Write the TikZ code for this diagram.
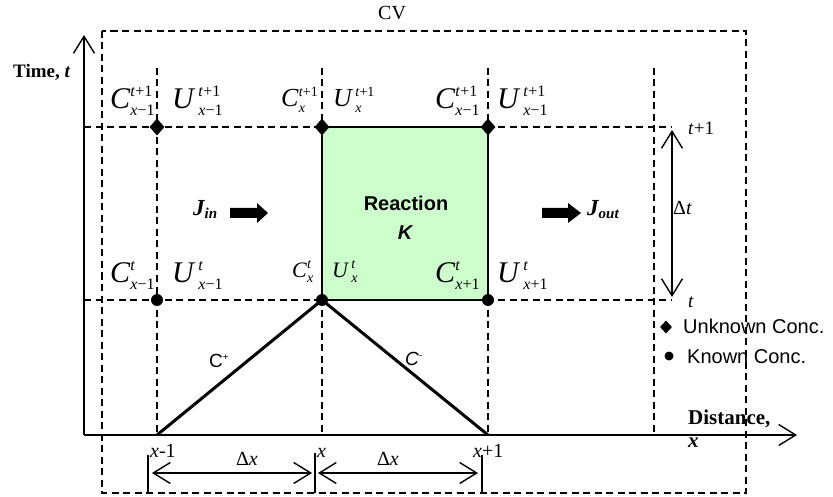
\documentclass[tikz,border=0pt]{standalone}
\usepackage{fontspec}
\setmainfont{Liberation Serif}
\newfontfamily\arial{Liberation Sans}
\usetikzlibrary{arrows.meta,shapes.geometric}
\newsavebox\supbox
\newsavebox\subbox
% #1 main size, #2 script size, #3 letter, #4 sup, #5 sub, #6 gap
\newcommand\lab[6]{{\fontsize{#1}{#1}\selectfont\textit{#3}}\kern#6pt%
 \sbox\supbox{\fontsize{#2}{#2}\selectfont #4}%
 \sbox\subbox{\fontsize{#2}{#2}\selectfont #5}%
 \ifdim\wd\supbox>\wd\subbox
  \rlap{\raisebox{-0.22\dimexpr#1pt\relax}{\usebox\subbox}}\raisebox{0.41\dimexpr#1pt\relax}{\usebox\supbox}%
 \else
  \rlap{\raisebox{0.41\dimexpr#1pt\relax}{\usebox\supbox}}\raisebox{-0.22\dimexpr#1pt\relax}{\usebox\subbox}%
 \fi}
\newcommand\tpo{\textit{t}+1}
\newcommand\xmo{\textit{x}−1}
\newcommand\xpo{\textit{x}+1}
\tikzset{
  mybarb/.tip={Straight Barb[length=17pt,width=21pt,line width=1.4pt]},
  dsh/.style={dash pattern=on 7pt off 4.5pt, line width=1.4pt},
  axisline/.style={line width=1.3pt},
  txt/.style={inner sep=0pt, anchor=base west},
  diam/.style={diamond, fill=black, inner sep=0pt, minimum width=15pt, minimum height=17pt},
  dotn/.style={circle, fill=black, inner sep=0pt, minimum size=12pt},
  cline/.style={line width=3pt},
  blockarr/.style={fill=black},
}
\begin{document}
\begin{tikzpicture}[x=1pt,y=-1pt]
\useasboundingbox (0,0) rectangle (833,497);
% CV box
\draw[dsh] (102,31) rectangle (746,493);
\node[txt, font=\fontsize{20}{20}\selectfont] (cv) at (378,20) {CV};
% vertical dashed grid lines
\foreach \xx in {157,322,488,654} \draw[dsh] (\xx,68) -- (\xx,435);
% horizontal dashed lines
\draw[dsh] (84,127) -- (672,127);
\draw[dsh] (84,300) -- (672,300);
% green reaction box
\filldraw[fill={rgb,255:red,204;green,255;blue,204}, draw=black, line width=2pt] (322,127) rectangle (488,300);
\node[inner sep=0pt, anchor=base, font=\arial\bfseries\fontsize{20}{20}\selectfont] (reac) at (406,211) {Reaction};
\node[inner sep=0pt, anchor=base, font=\arial\bfseries\itshape\fontsize{20}{20}\selectfont] (kk) at (405,240) {K};
% axes
\coordinate (o) at (84,435);
\coordinate (ty) at (84,35);
\coordinate (tx) at (797,435);
\draw[axisline, -{mybarb}] (o) -- (ty);
\draw[axisline, -{mybarb}] (o) -- (tx);
\node[txt, font=\bfseries\fontsize{19}{19}\selectfont] (tlab) at (13,78) {Time, \textit{t}};
\node[txt, font=\bfseries\fontsize{21}{21}\selectfont] (dlab) at (688,424) {Distance,};
\node[txt, font=\bfseries\itshape\fontsize{21}{21}\selectfont] (dx) at (688,447) {x};
% triangle lines
\coordinate (a0) at (157,435);
\coordinate (a2) at (488,435);
\node[dotn] (k0) at (157,300) {};
\node[dotn] (k1) at (322,300) {};
\node[dotn] (k2) at (488,300) {};
\draw[cline, line join=miter] (a0) -- (k1.center) -- (a2);
\node[diam] (u0) at (157,127) {};
\node[diam] (u1) at (322,127) {};
\node[diam] (u2) at (488,127) {};
\node[txt, font=\arial\fontsize{19}{19}\selectfont] (cp) at (209,367) {C\raisebox{7pt}{\fontsize{10}{10}\selectfont +}};
\node[txt, font=\arial\itshape\fontsize{19}{19}\selectfont] (cm) at (405,365) {C\raisebox{7pt}{\fontsize{10}{10}\selectfont -}};
% labels row t+1
\node[txt] (l1) at (110,109) {\lab{30}{16}{C}{\tpo}{\xmo}{0}};
\node[txt] (l2) at (172,109) {\lab{30}{16}{U}{\tpo}{\xmo}{3}};
\node[txt] (l3) at (281,107) {\lab{26}{14}{C}{\tpo}{\textit{x}}{0}};
\node[txt] (l4) at (333,107) {\lab{26}{14}{U}{\tpo}{\textit{x}}{2}};
\node[txt] (l5) at (435,109) {\lab{30}{16}{C}{\tpo}{\xmo}{0}};
\node[txt] (l6) at (497,109) {\lab{30}{16}{U}{\tpo}{\xmo}{3}};
% labels row t
\node[txt] (m1) at (110,283) {\lab{30}{16}{C}{\textit{t}}{\xmo}{0}};
\node[txt] (m2) at (172,283) {\lab{30}{16}{U}{\textit{t}}{\xmo}{3}};
\node[txt] (m3) at (292,278) {\lab{22}{14}{C}{\textit{t}}{\textit{x}}{0}};
\node[txt] (m4) at (332,278) {\lab{22}{14}{U}{\textit{t}}{\textit{x}}{2}};
\node[txt] (m5) at (435,283) {\lab{30}{16}{C}{\textit{t}}{\xpo}{0}};
\node[txt] (m6) at (497,283) {\lab{30}{16}{U}{\textit{t}}{\xpo}{3}};
% fluxes
\node[txt, font=\bfseries\itshape\fontsize{23}{23}\selectfont] (jin) at (193,216) {J\raisebox{-3pt}{\fontsize{15}{15}\selectfont in}};
\fill[blockarr] (230,208) -- (257,208) -- (257,203) -- (268,213) -- (257,223) -- (257,218) -- (230,218) -- cycle;
\fill[blockarr] (542,208) -- (568,208) -- (568,203) -- (581,213) -- (568,223) -- (568,218) -- (542,218) -- cycle;
\node[txt, font=\bfseries\itshape\fontsize{23}{23}\selectfont] (jout) at (587,216) {J\raisebox{-3pt}{\fontsize{15}{15}\selectfont out}};
% delta t
\coordinate (dt1) at (672,130);
\coordinate (dt0) at (672,297);
\draw[axisline, {mybarb}-{mybarb}] (dt0) -- (dt1);
\node[txt, font=\fontsize{20}{20}\selectfont] (dtl) at (673,215) {Δ\textit{t}};
\node[txt, font=\fontsize{19}{19}\selectfont] (tp1) at (688,135) {\textit{t}+1};
\node[txt, font=\fontsize{19}{19}\selectfont] (tt) at (688,308) {\textit{t}};
% legend
\node[diamond, fill=black, inner sep=0pt, minimum width=12pt, minimum height=13pt] (lg1) at (666,327) {};
\node[txt, font=\arial\fontsize{20}{20}\selectfont] (lgt1) at (683,333) {Unknown Conc.};
\node[circle, fill=black, inner sep=0pt, minimum size=9pt] (lg2) at (669,356) {};
\node[txt, font=\arial\fontsize{20}{20}\selectfont] (lgt2) at (687,363) {Known Conc.};
% bottom distance markers
\coordinate (b0t) at (148,455); \coordinate (b0b) at (148,493);
\coordinate (b1t) at (315,453); \coordinate (b1b) at (315,493);
\coordinate (b2t) at (482,455); \coordinate (b2b) at (482,493);
\draw[line width=1.6pt] (b0t) -- (b0b);
\draw[line width=1.6pt] (b1t) -- (b1b);
\draw[line width=1.6pt] (b2t) -- (b2b);
\coordinate (d0l) at (152,473); \coordinate (d0r) at (312,473);
\coordinate (d1l) at (318,473); \coordinate (d1r) at (478,473);
\draw[axisline, {mybarb}-{mybarb}] (d0l) -- (d0r);
\draw[axisline, {mybarb}-{mybarb}] (d1l) -- (d1r);
\node[inner sep=0pt, anchor=base, font=\fontsize{20}{20}\selectfont] (dx1) at (247,465) {Δ\textit{x}};
\node[inner sep=0pt, anchor=base, font=\fontsize{20}{20}\selectfont] (dx2) at (388,465) {Δ\textit{x}};
\node[txt, font=\fontsize{20}{20}\selectfont] (x0) at (150,457) {\textit{x}-1};
\node[txt, font=\fontsize{20}{20}\selectfont] (x1) at (317,457) {\textit{x}};
\node[txt, font=\fontsize{20}{20}\selectfont] (x2) at (473,457) {\textit{x}+1};
\end{tikzpicture}
\end{document}
